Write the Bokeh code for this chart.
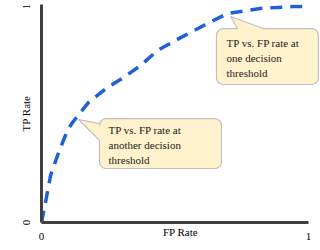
import numpy as np
from bokeh.plotting import figure
from bokeh.models import Range1d, FixedTicker, Label
from bokeh.embed import file_html
from bokeh.resources import INLINE

# ---- data ----
fpr = [0, 0.015, 0.034, 0.064, 0.097, 0.116, 0.176, 0.247, 0.307, 0.371,
       0.434, 0.521, 0.607, 0.697, 0.82, 0.944, 1.0]
tpr = [0, 0.093, 0.218, 0.324, 0.426, 0.463, 0.556, 0.625, 0.671, 0.727,
       0.796, 0.856, 0.912, 0.968, 0.991, 1.0, 1.0]
x_ticks = [0, 1]
y_ticks = [0, 1]
x_tick_labels = ["0", "1"]
y_tick_labels = ["0", "1"]
x_label = "FP Rate"
y_label = "TP Rate"
callout_texts = ["TP vs. FP rate at\none decision\nthreshold",
                 "TP vs. FP rate at\nanother decision\nthreshold"]

# ---- layout ----
W, H = 320, 250
PX_X, PX_Y = 267.0, 216.0        # pixels per data unit
X_END, Y_END = 1.041, 1.0093
FRAME_W, FRAME_H = 278, 218
LEFT, TOP = 41, 4

FONT = "Liberation Serif"
AXIS_COLOR = "#404040"

p = figure(width=W, height=H,
           x_range=Range1d(0, X_END), y_range=Range1d(0, Y_END),
           output_backend="svg", toolbar_location=None,
           min_border_left=LEFT, min_border_right=W - LEFT - FRAME_W,
           min_border_top=TOP, min_border_bottom=H - TOP - FRAME_H)
p.outline_line_color = None
p.grid.visible = False
p.background_fill_color = "white"
p.border_fill_color = "white"

for ax, ticks, labels, bnd in ((p.xaxis[0], x_ticks, x_tick_labels, (0, 1)),
                               (p.yaxis[0], y_ticks, y_tick_labels, (0, Y_END))):
    ax.ticker = FixedTicker(ticks=ticks)
    ax.major_label_overrides = {t: l for t, l in zip(ticks, labels)}
    ax.bounds = bnd
    ax.axis_line_color = AXIS_COLOR
    ax.axis_line_width = 3
    ax.major_tick_line_color = None
    ax.minor_tick_line_color = None
    ax.major_tick_in = 0
    ax.major_tick_out = 0
    ax.minor_tick_out = 0
    ax.major_label_text_font = FONT
    ax.major_label_text_font_size = "11px"
    ax.major_label_text_color = "black"
    ax.axis_label_text_font = FONT
    ax.axis_label_text_font_size = "11px"
    ax.axis_label_text_font_style = "normal"
    ax.axis_label_text_color = "black"

p.xaxis.axis_label = x_label
p.xaxis.major_label_standoff = 10
p.xaxis.axis_label_standoff = -17
p.yaxis.axis_label = y_label
p.yaxis.major_label_orientation = "vertical"
p.yaxis.major_label_standoff = 12
p.yaxis.axis_label_standoff = -12

# ---- ROC curve ----
p.line(fpr, tpr, line_color="#1F5FD7", line_width=3.5, line_dash="12 8")

# ---- callouts (annotation positions in data units) ----
callouts = [
    dict(box=(0.655, 1.037, 0.639, 0.898), side="top", base=(0.734, 0.831),
         tip=(0.708, 0.954), text_at=(0.693, 0.861)),
    dict(box=(0.217, 0.674, 0.250, 0.481), side="left", base=(0.380, 0.458),
         tip=(0.139, 0.477), text_at=(0.251, 0.458)),
]


def callout_path(box, side, base, tip, r=7.0, n=8):
    L, R, B, T = box[0] * PX_X, box[1] * PX_X, box[2] * PX_Y, box[3] * PX_Y
    tx, ty = tip[0] * PX_X, tip[1] * PX_Y
    pts = [(L + r, T)]
    if side == "top":
        pts += [(base[0] * PX_X, T), (tx, ty), (base[1] * PX_X, T)]
    def arc(cx, cy, a0, a1):
        return [(cx + r * np.cos(a), cy + r * np.sin(a))
                for a in np.linspace(np.radians(a0), np.radians(a1), n)]
    pts += arc(R - r, T - r, 90, 0)
    pts += arc(R - r, B + r, 0, -90)
    pts += arc(L + r, B + r, -90, -180)
    if side == "left":
        pts += [(L, base[0] * PX_Y), (tx, ty), (L, base[1] * PX_Y)]
    pts += arc(L + r, T - r, 180, 90)
    xs = [q[0] / PX_X for q in pts]
    ys = [q[1] / PX_Y for q in pts]
    return xs, ys


for c, txt in zip(callouts, callout_texts):
    xs, ys = callout_path(c["box"], c["side"], c["base"], c["tip"])
    p.patch(xs, ys, fill_color="#FFF2CC", line_color="#BFBFBF", line_width=1.2)
    p.add_layout(Label(x=c["text_at"][0], y=c["text_at"][1], text=txt,
                       text_font=FONT, text_font_size="11px",
                       text_color="#1a1a1a", text_align="left",
                       text_baseline="top", text_line_height=1.27))

open("out.html", "w").write(file_html(p, INLINE))
